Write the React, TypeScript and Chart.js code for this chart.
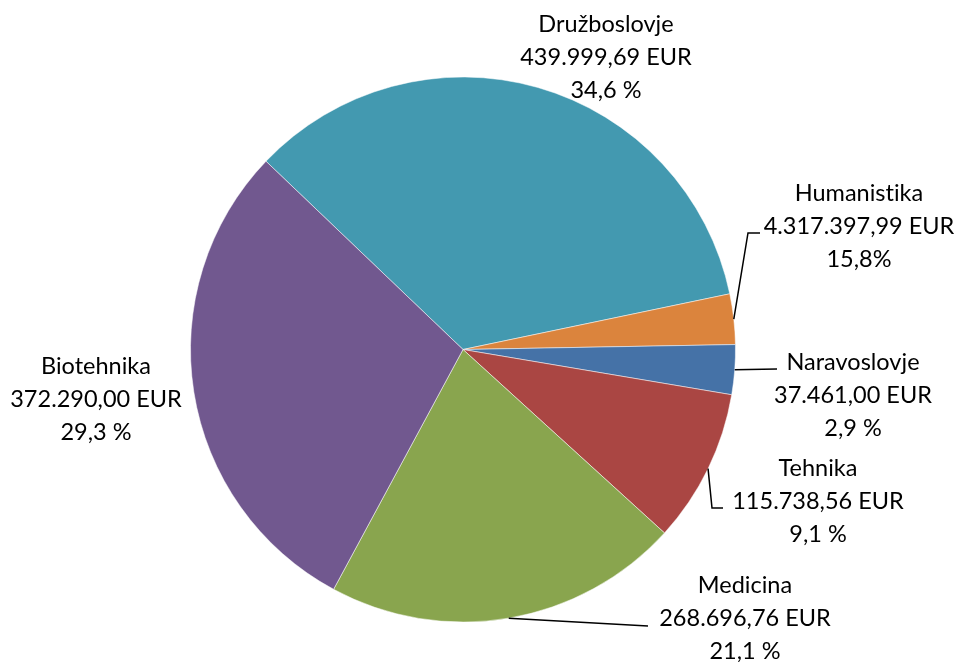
import React, { useEffect, useRef } from "react";
import { Chart, registerables } from "chart.js";

Chart.register(...registerables);

// ---- data ----
const categories = ["Družboslovje", "Humanistika", "Naravoslovje", "Tehnika", "Medicina", "Biotehnika"];
const values = [439999.69, 38000, 37461, 115738.56, 268696.76, 372290];
const amountLabels = ["439.999,69 EUR", "4.317.397,99 EUR", "37.461,00 EUR", "115.738,56 EUR", "268.696,76 EUR", "372.290,00 EUR"];
const percentLabels = ["34,6 %", "15,8%", "2,9 %", "9,1 %", "21,1 %", "29,3 %"];

// ---- style ----
const colors = ["#4399B0", "#DB843D", "#4572A7", "#AA4643", "#89A54E", "#71588F"];
const FONT = "23.5px Lato, 'Open Sans', sans-serif";
const LINE_H = 33;

// label placement relative to pie centre: dx = text centre x, dy = first line centre y,
// leader = elbow points of the leader line (start point comes from the arc itself)
const LAYOUT: { dx: number; dy: number; leader?: [number, number][] }[] = [
  { dx: 143, dy: -325.5 },
  { dx: 396, dy: -156.5, leader: [[285, -116.5], [297, -116.5]] },
  { dx: 390, dy: 12.5, leader: [[314, 19.5]] },
  { dx: 355, dy: 118.5, leader: [[249, 158.5], [260, 158.5]] },
  { dx: 282, dy: 235.5, leader: [[185, 276.5]] },
  { dx: -367, dy: 16.5 },
];

const outLabels = {
  id: "outLabels",
  afterDatasetsDraw(chart: any) {
    const ctx = chart.ctx as any;
    const meta = chart.getDatasetMeta(0);
    ctx.save();
    ctx.font = FONT;
    if ("textRendering" in ctx) ctx.textRendering = "optimizeSpeed";
    if ("fontVariantLigatures" in ctx) ctx.fontVariantLigatures = "none";
    ctx.fillStyle = "#000000";
    ctx.strokeStyle = "#000000";
    ctx.lineWidth = 1.5;
    ctx.textAlign = "center";
    ctx.textBaseline = "middle";
    meta.data.forEach((arc: any, i: number) => {
      const p = arc.getProps(["x", "y", "startAngle", "endAngle", "outerRadius"], true);
      const mid = (p.startAngle + p.endAngle) / 2;
      const sx = p.x + Math.cos(mid) * p.outerRadius;
      const sy = p.y + Math.sin(mid) * p.outerRadius;
      const L = LAYOUT[i];
      if (L.leader) {
        ctx.beginPath();
        ctx.moveTo(sx, sy);
        L.leader.forEach(([dx, dy]) => ctx.lineTo(p.x + dx, p.y + dy));
        ctx.stroke();
      }
      const lines = [categories[i], amountLabels[i], percentLabels[i]];
      lines.forEach((t, k) => ctx.fillText(t, p.x + L.dx, p.y + L.dy + k * LINE_H));
    });
    ctx.restore();
  },
};

export default function App() {
  const ref = useRef<HTMLCanvasElement | null>(null);
  useEffect(() => {
    if (!ref.current) return;
    const chart = new Chart(ref.current, {
      type: "pie",
      data: {
        labels: categories,
        datasets: [
          {
            data: values,
            backgroundColor: colors,
            borderColor: "rgba(255,255,255,0.5)",
            borderWidth: 1,
          },
        ],
      },
      options: {
        responsive: false,
        animation: false,
        rotation: -46.3,
        layout: { padding: { left: 190, right: 223, top: 76.5, bottom: 39.5 } },
        plugins: {
          legend: { display: false },
          tooltip: { enabled: false },
        },
      },
      plugins: [outLabels],
    });
    return () => chart.destroy();
  }, []);
  return (
    <div style={{ position: "absolute", left: 0, top: 0, width: 959, height: 662, background: "#fff" }}>
      <canvas ref={ref} width={959} height={662} style={{ display: "block" }} />
    </div>
  );
}
